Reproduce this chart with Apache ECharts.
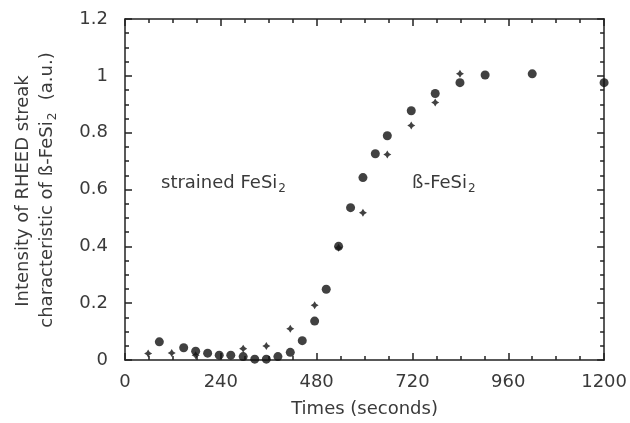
<!DOCTYPE html>
<html>
<head>
<meta charset="utf-8">
<script src="https://cdn.jsdelivr.net/npm/echarts@6/dist/echarts.min.js"></script>
<style>
  html, body { margin: 0; padding: 0; background: #fff; }
  #chart { width: 630px; height: 423px; }
</style>
</head>
<body>
<div id="chart"></div>
<script>
// RHEED streak intensity vs time
var circleTimes = [86, 147, 177, 207, 236, 265, 296, 325, 354, 383, 414, 444, 475,
  504, 535, 565, 596, 627, 657, 717, 777, 839, 902, 1020, 1200];
var circleValues = [0.064, 0.043, 0.031, 0.024, 0.017, 0.017, 0.012, 0.003, 0.003,
  0.012, 0.027, 0.068, 0.137, 0.249, 0.40, 0.536, 0.642, 0.726, 0.789, 0.877,
  0.938, 0.976, 1.003, 1.007, 0.976];

var starTimes = [58, 117, 177, 296, 354, 414, 475, 535, 596, 657, 717, 777, 839];
var starValues = [0.023, 0.025, 0.017, 0.04, 0.049, 0.11, 0.193, 0.395, 0.518,
  0.723, 0.825, 0.906, 1.007];

var xTicks = [0, 240, 480, 720, 960, 1200];
var yTicks = [0, 0.2, 0.4, 0.6, 0.8, 1, 1.2];

function pairs(xs, ys) {
  var out = [];
  for (var i = 0; i < xs.length; i++) out.push([xs[i], ys[i]]);
  return out;
}

var font = 'DejaVu Sans, Liberation Sans, sans-serif';
var ink = '#222';
var textCol = '#3a3a3a';

var chart = echarts.init(document.getElementById('chart'));

function xAx(pos, labels) {
  return {
    type: 'value', position: pos,
    min: xTicks[0], max: xTicks[xTicks.length - 1], interval: 240,
    axisLine: { onZero: false, lineStyle: { color: ink, width: 1.5 } },
    axisTick: { inside: true, length: 7, lineStyle: { color: ink, width: 1.5 } },
    minorTick: { show: true, splitNumber: 4, length: 4, lineStyle: { color: ink, width: 1.5 } },
    splitLine: { show: false },
    axisLabel: {
      show: labels, margin: 13, color: textCol, fontFamily: font, fontSize: 18,
      formatter: function (v) { return String(v); }
    },
    name: labels ? 'Times (seconds)' : '',
    nameLocation: 'middle', nameGap: 40,
    nameTextStyle: { color: textCol, fontFamily: font, fontSize: 18 }
  };
}

function yAx(pos, labels) {
  return {
    type: 'value', position: pos,
    min: yTicks[0], max: yTicks[yTicks.length - 1], interval: 0.2,
    axisLine: { onZero: false, lineStyle: { color: ink, width: 1.5 } },
    axisTick: { inside: true, length: 7, lineStyle: { color: ink, width: 1.5 } },
    minorTick: { show: true, splitNumber: 4, length: 4, lineStyle: { color: ink, width: 1.5 } },
    splitLine: { show: false },
    axisLabel: {
      show: labels, margin: 17, color: textCol, fontFamily: font, fontSize: 18,
      formatter: function (v) { return String(Math.round(v * 10) / 10); }
    }
  };
}

var subRich = {
  a: { fontFamily: font, fontSize: 18, fill: textCol },
  s: { fontFamily: font, fontSize: 12, fill: textCol, padding: [11, 0, 0, 1] }
};

var option = {
  backgroundColor: '#fff',
  animation: false,
  grid: { left: 125, right: 25, top: 19, bottom: 58 },
  xAxis: [xAx('bottom', true), xAx('top', false)],
  yAxis: [yAx('left', true), yAx('right', false)],
  graphic: [
    {
      type: 'text', left: 161, top: 174,
      style: { text: '{a|strained FeSi}{s|2}', rich: subRich }
    },
    {
      type: 'text', left: 412, top: 174,
      style: { text: '{a|ß-FeSi}{s|2}', rich: subRich }
    },
    {
      type: 'text', x: 23, y: 191, rotation: Math.PI / 2,
      style: {
        text: 'Intensity of RHEED streak',
        fontFamily: font, fontSize: 18, fill: textCol,
        align: 'center', verticalAlign: 'middle'
      }
    },
    {
      type: 'text', x: 47, y: 190, rotation: Math.PI / 2,
      style: {
        text: '{a|characteristic of ß-FeSi}{s|2}{a|  (a.u.)}',
        align: 'center', verticalAlign: 'middle',
        rich: {
          a: { fontFamily: font, fontSize: 18, fill: textCol },
          s: { fontFamily: font, fontSize: 12, fill: textCol, padding: [11, 1, 0, 1] }
        }
      }
    }
  ],
  series: [
    {
      type: 'scatter', name: 'circles',
      xAxisIndex: 0, yAxisIndex: 0,
      symbol: 'circle', symbolSize: 9, clip: false,
      itemStyle: { color: '#111' },
      data: pairs(circleTimes, circleValues)
    },
    {
      type: 'scatter', name: 'stars',
      xAxisIndex: 0, yAxisIndex: 0,
      symbol: 'path://M0,-1 L0.38,-0.38 L1,0 L0.38,0.38 L0,1 L-0.38,0.38 L-1,0 L-0.38,-0.38 Z',
      symbolSize: 8, clip: false,
      itemStyle: { color: '#111' },
      data: pairs(starTimes, starValues)
    }
  ]
};

chart.setOption(option);
</script>
</body>
</html>
